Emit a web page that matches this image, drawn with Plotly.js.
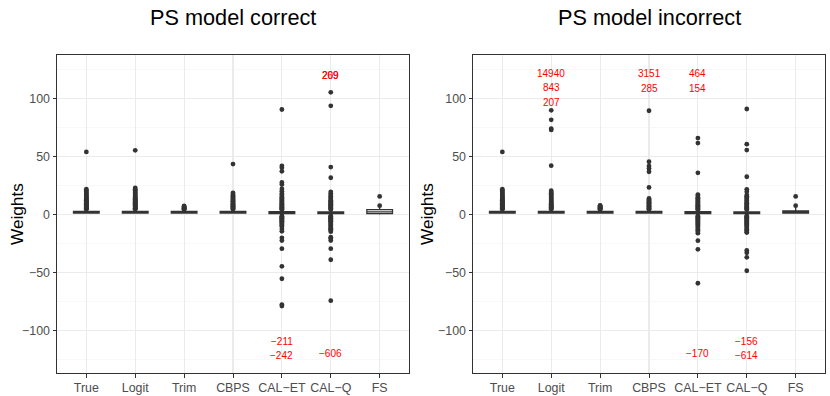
<!DOCTYPE html>
<html>
<head>
<meta charset="utf-8">
<script src="https://cdn.plot.ly/plotly-3.0.1.min.js"></script>
<style>html,body{margin:0;padding:0;background:#fff;}#chart{width:830px;height:396px;}</style>
</head>
<body>
<div id="chart"></div>
<script>
// ---- categories & titles ----
const categories = ["True", "Logit", "Trim", "CBPS", "CAL\u2212ET", "CAL\u2212Q", "FS"];
const panelTitles = ["PS model correct", "PS model incorrect"];
const yTitle = "Weights";

// ---- box statistics, PS model correct ----
const corrQ1  = [1.4, 1.4, 1.4, 1.4, 1.0, 1.0, 1.0];
const corrMed = [2.1, 2.1, 2.1, 2.1, 1.8, 1.7, 2.5];
const corrQ3  = [3.0, 3.0, 3.0, 3.0, 2.6, 2.5, 4.4];
const corrLo  = [1.0, 1.0, 1.0, 1.0, -0.6, -0.6, 0.3];
const corrHi  = [4.6, 4.6, 4.2, 4.6, 4.0, 4.0, 6.5];

// ---- box statistics, PS model incorrect ----
const incQ1  = [1.4, 1.4, 1.4, 1.4, 1.0, 1.0, 1.5];
const incMed = [2.1, 2.1, 2.1, 2.1, 1.8, 1.7, 2.4];
const incQ3  = [3.0, 3.0, 3.0, 3.0, 2.6, 2.5, 3.4];
const incLo  = [1.0, 1.0, 1.0, 1.0, -0.6, -0.6, 1.0];
const incHi  = [4.6, 4.6, 4.2, 4.4, 4.0, 4.0, 6.5];

// ---- outliers, PS model correct ----
const corrTrueOut  = [4.7,5.1,5.5,5.9,6.3,6.7,7.1,7.6,8.0,8.5,9.0,9.4,9.9,10.4,10.9,11.5,12.0,12.6,13.2,13.9,14.5,15.3,16.1,17.0,17.9,18.8,19.9,21.0,22.1,54.2];
const corrLogitOut = [4.8,5.2,5.7,6.1,6.6,7.0,7.5,8.0,8.4,8.9,9.4,9.9,10.5,11.0,11.6,12.2,12.8,13.4,14.1,14.8,15.6,16.4,17.2,18.1,19.0,19.9,20.9,22.0,23.2,55.6];
const corrTrimOut  = [4.4,4.8,5.1,5.5,5.9,6.3,6.7,7.1,7.6];
const corrCbpsOut  = [4.8,5.3,5.8,6.3,6.8,7.3,7.9,8.4,9.0,9.6,10.2,10.9,11.6,12.3,13.1,13.9,14.8,15.8,16.8,17.8,18.9,43.7];
const corrCalEtOut = [90.8,42.2,40.6,37.5,27.9,26.1,22.2,20.3,18.4,17.2,16.1,15.0,14.0,13.1,12.2,11.4,10.6,9.8,9.1,8.4,7.7,7.1,6.5,5.9,5.3,4.8,4.3,-1.0,-1.5,-2.0,-2.6,-3.1,-3.7,-4.3,-4.9,-5.6,-6.3,-7.0,-7.8,-8.6,-9.4,-10.3,-12.2,-14.3,-19.9,-22.3,-29.3,-44.5,-55.2,-77.5,-78.7];
const corrCalQOut  = [105.6,94.0,41.1,31.9,19.8,18.3,17.0,15.8,14.7,13.6,12.6,11.7,10.8,9.9,9.1,8.3,7.6,6.9,6.2,5.6,5.0,4.4,-0.9,-1.4,-1.9,-2.5,-3.0,-3.6,-4.2,-4.9,-5.6,-6.3,-7.1,-7.9,-8.8,-9.7,-10.6,-11.6,-12.6,-13.6,-14.6,-19.3,-20.5,-22.2,-29.3,-38.8,-74.1];
const corrFsOut    = [7.8, 15.8];

// ---- outliers, PS model incorrect ----
const incTrueOut  = [4.7,5.1,5.5,5.9,6.3,6.7,7.1,7.6,8.0,8.5,9.0,9.4,9.9,10.4,10.9,11.5,12.0,12.6,13.2,13.9,14.5,15.3,16.1,17.0,17.9,18.8,19.9,21.0,22.1,54.2];
const incLogitOut = [90.1,81.9,74.2,73.2,42.3,20.7,19.6,18.5,17.4,16.4,15.4,14.5,13.6,12.7,11.9,11.1,10.3,9.6,8.9,8.2,7.6,7.0,6.4,5.8,5.3,4.8];
const incTrimOut  = [4.4,4.8,5.2,5.6,6.0,6.4,6.8,7.2,7.7,8.1];
const incCbpsOut  = [89.7,45.7,42.0,40.0,37.1,23.6,14.1,13.2,12.4,11.5,10.7,10.0,9.3,8.6,7.9,7.3,6.7,6.1,5.5,5.0,4.6];
const incCalEtOut = [66.1,61.8,36.2,17.4,16.3,15.2,14.2,13.2,12.3,11.4,10.5,9.7,8.9,8.1,7.4,6.7,6.0,5.4,4.8,4.2,-0.9,-1.5,-2.1,-2.8,-3.5,-4.2,-5.0,-5.8,-6.6,-7.5,-8.4,-9.3,-10.3,-11.3,-12.4,-13.5,-14.7,-15.9,-22.4,-29.8,-59.1];
const incCalQOut  = [91.2,60.9,55.8,32.8,21.9,19.8,17.0,15.9,14.8,13.8,12.8,11.8,10.9,10.0,9.2,8.4,7.6,6.9,6.2,5.5,4.9,4.3,-0.9,-1.5,-2.1,-2.8,-3.5,-4.2,-5.0,-5.8,-6.6,-7.5,-8.4,-9.3,-10.3,-11.3,-12.4,-13.6,-14.8,-15.3,-30.8,-32.8,-36.7,-48.3];
const incFsOut    = [7.8, 15.8];

// ---- off-scale value labels ----
const corrLabText = ["209", "269", "\u2212211", "\u2212242", "\u2212606"];
const corrLabCat  = ["CAL\u2212Q", "CAL\u2212Q", "CAL\u2212ET", "CAL\u2212ET", "CAL\u2212Q"];
const corrLabY    = [120.5, 120.5, -109, -121.5, -120];
const incLabText  = ["14940", "843", "207", "3151", "285", "464", "154", "\u2212170", "\u2212156", "\u2212614"];
const incLabCat   = ["Logit", "Logit", "Logit", "CBPS", "CBPS", "CAL\u2212ET", "CAL\u2212ET", "CAL\u2212ET", "CAL\u2212Q", "CAL\u2212Q"];
const incLabY     = [121.5, 109.5, 97, 121.5, 108.5, 121.5, 108.5, -120, -109, -121.5];

// ---- build ----
const FONT = "Liberation Sans, Arial, Helvetica, sans-serif";
const DARK = "#333333";
const corrOut = [corrTrueOut, corrLogitOut, corrTrimOut, corrCbpsOut, corrCalEtOut, corrCalQOut, corrFsOut];
const incOut  = [incTrueOut, incLogitOut, incTrimOut, incCbpsOut, incCalEtOut, incCalQOut, incFsOut];

function outlierTrace(groups, xa, ya) {
  const xs = [], ys = [];
  groups.forEach((g, i) => g.forEach(v => { xs.push(categories[i]); ys.push(v); }));
  return {type: "scatter", mode: "markers", x: xs, y: ys, xaxis: xa, yaxis: ya,
          marker: {size: 4.8, color: DARK}, hoverinfo: "skip", showlegend: false, cliponaxis: true};
}
function boxTrace(q1, med, q3, lo, hi, xa, ya) {
  return {type: "box", x: categories, q1: q1, median: med, q3: q3, lowerfence: lo, upperfence: hi,
          xaxis: xa, yaxis: ya, boxpoints: false, fillcolor: "white", whiskerwidth: 0,
          line: {color: DARK, width: 1.3}, showlegend: false, hoverinfo: "skip"};
}

const traces = [
  outlierTrace(corrOut, "x", "y"),
  boxTrace(corrQ1, corrMed, corrQ3, corrLo, corrHi, "x", "y"),
  outlierTrace(incOut, "x2", "y2"),
  boxTrace(incQ1, incMed, incQ3, incLo, incHi, "x2", "y2")
];

const W = 830, H = 396;
const yDom = [(H - 373) / H, (H - 55) / H];
function xAxis(dom, anchor) {
  return {domain: dom, anchor: anchor, type: "category", categoryorder: "array", categoryarray: categories,
          range: [-0.6, 6.6], showgrid: true, gridcolor: "#ebebeb", gridwidth: 1.1, zeroline: false,
          showline: true, mirror: true, linecolor: DARK, linewidth: 1,
          ticks: "outside", ticklen: 3.5, tickwidth: 1, tickcolor: DARK,
          tickfont: {family: FONT, size: 12.4, color: "#4d4d4d"}, fixedrange: true};
}
function yAxis(anchor) {
  return {domain: yDom, anchor: anchor, range: [-136.5, 137.8], tickmode: "array",
          tickvals: [-100, -50, 0, 50, 100], ticktext: ["\u2212100", "\u221250", "0", "50", "100"],
          showgrid: true, gridcolor: "#ebebeb", gridwidth: 1.1, zeroline: false,
          minor: {tickmode: "array", tickvals: [-125, -75, -25, 25, 75, 125], showgrid: true, gridcolor: "#f3f3f3", gridwidth: 0.6, ticks: ""},
          showline: true, mirror: true, linecolor: DARK, linewidth: 1,
          ticks: "outside", ticklen: 3.5, tickwidth: 1, tickcolor: DARK,
          tickfont: {family: FONT, size: 12.4, color: "#4d4d4d"}, fixedrange: true};
}

const annotations = [];
corrLabText.forEach((t, i) => annotations.push({xref: "x", yref: "y", x: corrLabCat[i], y: corrLabY[i], text: t,
  showarrow: false, font: {family: FONT, size: 10, color: "#ff0000"}, xanchor: "center", yanchor: "middle"}));
incLabText.forEach((t, i) => annotations.push({xref: "x2", yref: "y2", x: incLabCat[i], y: incLabY[i], text: t,
  showarrow: false, font: {family: FONT, size: 10, color: "#ff0000"}, xanchor: "center", yanchor: "middle"}));
const panelCenters = [(57 + 409) / 2 / W, (473 + 825) / 2 / W];
panelTitles.forEach((t, i) => annotations.push({xref: "paper", yref: "paper", x: panelCenters[i], y: (H - 17) / H,
  text: t, showarrow: false, xanchor: "center", yanchor: "middle", font: {family: FONT, size: 21.7, color: "#000"}}));
[17 / W, 427 / W].forEach(x => annotations.push({xref: "paper", yref: "paper", x: x, y: (H - 214) / H, text: yTitle,
  textangle: -90, showarrow: false, xanchor: "center", yanchor: "middle", font: {family: FONT, size: 17.2, color: "#000"}}));

const layout = {
  width: W, height: H, margin: {l: 0, r: 0, t: 0, b: 0},
  paper_bgcolor: "white", plot_bgcolor: "white", showlegend: false, boxgap: 0.25,
  xaxis: xAxis([57 / W, 409 / W], "y"), yaxis: yAxis("x"),
  xaxis2: xAxis([473 / W, 825 / W], "y2"), yaxis2: yAxis("x2"),
  annotations: annotations, font: {family: FONT}
};
Plotly.newPlot("chart", traces, layout, {staticPlot: true, displayModeBar: false});
</script>
</body>
</html>
